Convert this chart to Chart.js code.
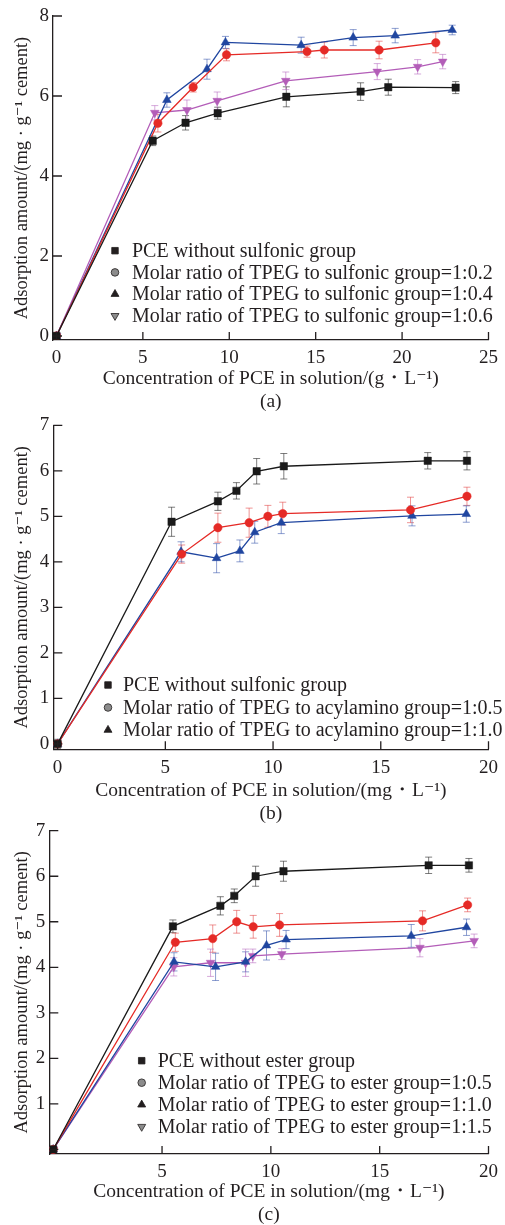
<!DOCTYPE html>
<html>
<head>
<meta charset="utf-8">
<script src="https://cdn.jsdelivr.net/npm/chart.js@4.4.1/dist/chart.umd.min.js"></script>
<style>
    html, body { margin: 0; padding: 0; background: #fff; overflow: hidden; }
    #wrap { position: relative; width: 505px; height: 1225px; }
    .panel { position: absolute; left: 0; width: 505px; }
</style>
</head>
<body>
<div id="wrap">
    <div class="panel" id="boxA" style="top:0px;height:420px"><canvas id="chartA"></canvas></div>
    <div class="panel" id="boxB" style="top:405px;height:420px"><canvas id="chartB"></canvas></div>
    <div class="panel" id="boxC" style="top:815px;height:410px"><canvas id="chartC"></canvas></div>
</div>
<script>
// ---- Panel (a): sulfonic group ----
const aXTicks = [0, 5, 10, 15, 20, 25];
const aYTicks = [0, 2, 4, 6, 8];
const aLabels = ['PCE without sulfonic group',
    'Molar ratio of TPEG to sulfonic group=1:0.2',
    'Molar ratio of TPEG to sulfonic group=1:0.4',
    'Molar ratio of TPEG to sulfonic group=1:0.6'];
const aPceX = [0, 5.57, 7.47, 9.33, 13.3, 17.6, 19.2, 23.1];
const aPceY = [0, 4.88, 5.33, 5.57, 5.98, 6.11, 6.22, 6.21];
const aPceErr = [0, 0.12, 0.18, 0.15, 0.25, 0.22, 0.2, 0.15];
const a02X = [0, 5.87, 7.91, 9.84, 14.5, 15.5, 18.67, 21.95];
const a02Y = [0, 5.32, 6.22, 7.03, 7.11, 7.15, 7.15, 7.33];
const a02Err = [0, 0.22, 0.12, 0.15, 0.14, 0.2, 0.22, 0.25];
const a04X = [0, 6.39, 8.71, 9.78, 14.16, 17.17, 19.6, 22.9];
const a04Y = [0, 5.9, 6.67, 7.34, 7.27, 7.46, 7.51, 7.65];
const a04Err = [0, 0.18, 0.25, 0.15, 0.2, 0.2, 0.18, 0.12];
const a06X = [0, 5.69, 7.55, 9.3, 13.27, 18.56, 20.9, 22.35];
const a06Y = [0, 5.58, 5.65, 5.88, 6.38, 6.61, 6.73, 6.86];
const a06Err = [0, 0.18, 0.25, 0.22, 0.22, 0.2, 0.18, 0.18];

// ---- Panel (b): acylamino group ----
const bXTicks = [0, 5, 10, 15, 20];
const bYTicks = [0, 1, 2, 3, 4, 5, 6, 7];
const bLabels = ['PCE without sulfonic group',
    'Molar ratio of TPEG to acylamino group=1:0.5',
    'Molar ratio of TPEG to acylamino group=1:1.0'];
const bPceX = [0, 5.29, 7.44, 8.3, 9.24, 10.5, 17.18, 19.0];
const bPceY = [0, 4.88, 5.33, 5.56, 5.99, 6.1, 6.22, 6.22];
const bPceErr = [0.1, 0.32, 0.2, 0.18, 0.28, 0.28, 0.18, 0.2];
const b05X = [0, 5.76, 7.44, 8.89, 9.76, 10.45, 16.38, 19.0];
const b05Y = [0, 4.17, 4.75, 4.86, 5.0, 5.06, 5.14, 5.44];
const b05Err = [0, 0.2, 0.32, 0.32, 0.24, 0.25, 0.28, 0.2];
const b10X = [0, 5.73, 7.38, 8.46, 9.15, 10.38, 16.45, 18.97];
const b10Y = [0, 4.22, 4.08, 4.24, 4.65, 4.86, 5.01, 5.05];
const b10Err = [0, 0.22, 0.32, 0.24, 0.24, 0.24, 0.22, 0.18];

// ---- Panel (c): ester group ----
const cXTicks = [5, 10, 15, 20];
const cYTicks = [0, 1, 2, 3, 4, 5, 6, 7];
const cLabels = ['PCE without ester group',
    'Molar ratio of TPEG to ester group=1:0.5',
    'Molar ratio of TPEG to ester group=1:1.0',
    'Molar ratio of TPEG to ester group=1:1.5'];
const cPceX = [0, 5.5, 7.68, 8.32, 9.3, 10.58, 17.25, 19.1];
const cPceY = [0, 4.9, 5.35, 5.57, 6.0, 6.11, 6.24, 6.24];
const cPceErr = [0, 0.14, 0.2, 0.15, 0.22, 0.22, 0.18, 0.15];
const c05X = [0, 5.61, 7.33, 8.43, 9.19, 10.4, 16.97, 19.04];
const c05Y = [0, 4.55, 4.63, 5.0, 4.89, 4.93, 5.02, 5.37];
const c05Err = [0, 0.2, 0.3, 0.25, 0.25, 0.25, 0.22, 0.15];
const c10X = [0, 5.55, 7.46, 8.84, 9.8, 10.7, 16.45, 18.99];
const c10Y = [0, 4.12, 4.01, 4.12, 4.48, 4.61, 4.69, 4.88];
const c10Err = [0, 0.2, 0.3, 0.22, 0.32, 0.2, 0.25, 0.18];
const c15X = [0, 5.54, 7.23, 8.84, 9.17, 10.5, 16.85, 19.34];
const c15Y = [0, 4.01, 4.1, 4.1, 4.25, 4.29, 4.43, 4.58];
const c15Err = [0, 0.2, 0.3, 0.3, 0.15, 0.12, 0.2, 0.15];

const axisColor = '#231f20';
const fontFamily = "'Liberation Serif', 'Times New Roman', 'DejaVu Serif', serif";
const yTitle = 'Adsorption amount/(mg \u00B7 g\u207B\u00B9 cement)';

Chart.defaults.font.family = fontFamily;
Chart.defaults.font.size = 19;
Chart.defaults.color = axisColor;

// series styles: PCE (black square), ratio 1 (red circle), ratio 2 (blue triangle), ratio 3 (purple down triangle)
const styles = [
    { color: '#1a1a1a', err: 'rgba(40,40,40,0.6)', point: 'rect', rot: 0, r: 5.2, legendFill: '#231f20' },
    { color: '#e52a26', err: 'rgba(225,60,60,0.55)', point: 'circle', rot: 0, r: 4.2, legendFill: '#8c8c8c' },
    { color: '#2046a0', err: 'rgba(50,80,170,0.55)', point: 'triangle', rot: 0, r: 5, legendFill: '#231f20' },
    { color: '#b35db8', err: 'rgba(180,100,190,0.55)', point: 'triangle', rot: 180, r: 5, legendFill: '#8c8c8c' }
];

function makeSeries(label, xs, ys, errs, st) {
    return {
        label: label,
        data: xs.map((x, i) => ({ x: x, y: ys[i] })),
        errors: errs,
        errorColor: st.err,
        legendFill: st.legendFill,
        borderColor: st.color,
        backgroundColor: st.color,
        borderWidth: 1.3,
        pointStyle: st.point,
        pointRotation: st.rot,
        pointRadius: st.r,
        pointBorderWidth: 0.5,
        tension: 0
    };
}

// error bars drawn under the markers
const errorBars = {
    id: 'errorBars',
    beforeDatasetsDraw(chart) {
        const ctx = chart.ctx;
        const xs = chart.scales.x, ys = chart.scales.y;
        chart.data.datasets.forEach(ds => {
            ctx.save();
            ctx.strokeStyle = ds.errorColor;
            ctx.lineWidth = 1;
            ds.data.forEach((p, i) => {
                const e = ds.errors[i];
                if (!e) return;
                const px = xs.getPixelForValue(p.x);
                const top = ys.getPixelForValue(p.y + e);
                const bot = ys.getPixelForValue(p.y - e);
                ctx.beginPath();
                ctx.moveTo(px, top); ctx.lineTo(px, bot);
                ctx.moveTo(px - 3.5, top); ctx.lineTo(px + 3.5, top);
                ctx.moveTo(px - 3.5, bot); ctx.lineTo(px + 3.5, bot);
                ctx.stroke();
            });
            ctx.restore();
        });
    }
};

// tick marks pointing into the plot
const innerTicks = {
    id: 'innerTicks',
    afterDraw(chart) {
        const { ctx, chartArea } = chart;
        const x = chart.scales.x, y = chart.scales.y;
        ctx.save();
        ctx.strokeStyle = axisColor;
        ctx.lineWidth = 1.3;
        ctx.beginPath();
        x.ticks.forEach(t => {
            const px = x.getPixelForValue(t.value);
            ctx.moveTo(px, chartArea.bottom);
            ctx.lineTo(px, chartArea.bottom - 8);
        });
        y.ticks.forEach(t => {
            const py = y.getPixelForValue(t.value);
            ctx.moveTo(chartArea.left, py);
            ctx.lineTo(chartArea.left + 9, py);
        });
        ctx.stroke();
        ctx.restore();
    }
};

// legend drawn inside the plot
const innerLegend = {
    id: 'innerLegend',
    afterDraw(chart, args, opts) {
        const ctx = chart.ctx;
        ctx.save();
        ctx.font = '20px ' + fontFamily;
        ctx.textBaseline = 'middle';
        chart.data.datasets.forEach((ds, i) => {
            const y = opts.y + i * opts.step;
            ctx.fillStyle = ds.legendFill;
            ctx.strokeStyle = axisColor;
            ctx.lineWidth = 0.8;
            Chart.helpers.drawPoint(ctx, {
                pointStyle: ds.pointStyle,
                rotation: ds.pointRotation,
                radius: ds.pointStyle === 'circle' ? 3.8 : 4.6,
                borderWidth: 0.8
            }, opts.x, y);
            ctx.fillStyle = axisColor;
            ctx.fillText(ds.label, opts.textX, y + 1);
        });
        ctx.restore();
    }
};

function makePanel(id, box, cfg) {
    const bottom = box.top + box.height;
    return new Chart(document.getElementById(id), {
        type: 'line',
        data: { datasets: cfg.series },
        options: {
            responsive: true,
            maintainAspectRatio: false,
            animation: false,
            layout: { padding: { left: 0, right: 505 - cfg.right, top: cfg.plotTop - box.top, bottom: 0 } },
            plugins: {
                legend: { display: false },
                tooltip: { enabled: false },
                innerLegend: {
                    x: cfg.legend.x, textX: cfg.legend.textX,
                    y: cfg.legend.y - box.top, step: cfg.legend.step
                }
            },
            scales: {
                x: {
                    type: 'linear',
                    min: cfg.xMin, max: cfg.xMax,
                    afterFit: s => { s.height = bottom - cfg.plotBottom; },
                    afterBuildTicks: s => { s.ticks = cfg.xTicks.map(v => ({ value: v })); },
                    grid: { display: false, drawTicks: false },
                    border: { display: true, color: axisColor, width: 1.3 },
                    ticks: { padding: 7, maxRotation: 0, font: { size: 19 } },
                    title: {
                        display: true,
                        text: [cfg.xTitle, cfg.caption],
                        font: { size: 19.5, lineHeight: 1.16 },
                        padding: { top: 0, bottom: bottom - cfg.captionY - 13 }
                    }
                },
                y: {
                    type: 'linear',
                    min: cfg.yMin, max: cfg.yMax,
                    afterFit: s => { s.width = cfg.left; },
                    afterBuildTicks: s => { s.ticks = cfg.yTicks.map(v => ({ value: v })); },
                    grid: { display: false, drawTicks: false },
                    border: { display: true, color: axisColor, width: 1.3 },
                    ticks: {
                        padding: 4,
                        font: { size: 19 },
                        callback: v => (cfg.hideYZero && v === 0) ? '' : v
                    },
                    title: {
                        display: true,
                        text: yTitle,
                        font: { size: 18.5, lineHeight: 1.2 },
                        padding: { top: 11, bottom: 0 }
                    }
                }
            }
        },
        plugins: [errorBars, innerTicks, innerLegend]
    });
}

makePanel('chartA', { top: 0, height: 420 }, {
    series: [
        makeSeries(aLabels[0], aPceX, aPceY, aPceErr, styles[0]),
        makeSeries(aLabels[1], a02X, a02Y, a02Err, styles[1]),
        makeSeries(aLabels[2], a04X, a04Y, a04Err, styles[2]),
        makeSeries(aLabels[3], a06X, a06Y, a06Err, styles[3])
    ],
    left: 53, right: 493, plotTop: 16, plotBottom: 340,
    xMin: -0.2, xMax: 25, yMin: -0.1, yMax: 8,
    xTicks: aXTicks, yTicks: aYTicks,
    xTitle: 'Concentration of PCE in solution/(g\u30FBL\u207B\u00B9)', caption: '(a)', captionY: 400,
    legend: { x: 115, textX: 132, y: 250.7, step: 21.7 }
});

makePanel('chartB', { top: 405, height: 420 }, {
    series: [
        makeSeries(bLabels[0], bPceX, bPceY, bPceErr, styles[0]),
        makeSeries(bLabels[1], b05X, b05Y, b05Err, styles[1]),
        makeSeries(bLabels[2], b10X, b10Y, b10Err, styles[2])
    ],
    left: 53.3, right: 493.3, plotTop: 425.3, plotBottom: 749.3,
    xMin: -0.2, xMax: 20, yMin: -0.12, yMax: 7,
    xTicks: bXTicks, yTicks: bYTicks,
    xTitle: 'Concentration of PCE in solution/(mg\u30FBL\u207B\u00B9)', caption: '(b)', captionY: 811.7,
    legend: { x: 108, textX: 123, y: 685, step: 22.5 }
});

makePanel('chartC', { top: 815, height: 410 }, {
    series: [
        makeSeries(cLabels[0], cPceX, cPceY, cPceErr, styles[0]),
        makeSeries(cLabels[1], c05X, c05Y, c05Err, styles[1]),
        makeSeries(cLabels[2], c10X, c10Y, c10Err, styles[2]),
        makeSeries(cLabels[3], c15X, c15Y, c15Err, styles[3])
    ],
    left: 49.3, right: 489.3, plotTop: 830.7, plotBottom: 1154,
    xMin: -0.18, xMax: 20, yMin: -0.1, yMax: 7,
    xTicks: cXTicks, yTicks: cYTicks, hideYZero: true,
    xTitle: 'Concentration of PCE in solution/(mg\u30FBL\u207B\u00B9)', caption: '(c)', captionY: 1213,
    legend: { x: 141.7, textX: 157.7, y: 1060.7, step: 22 }
});
</script>
</body>
</html>
